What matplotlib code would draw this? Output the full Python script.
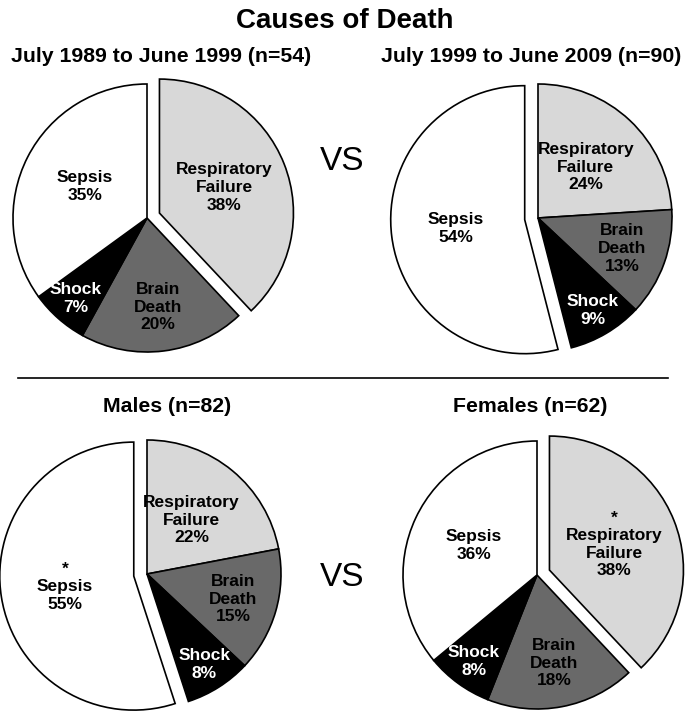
import numpy as np
import matplotlib.pyplot as plt
from matplotlib.lines import Line2D

# Causes of death - four pie charts (two comparisons)
categories = ['Respiratory\nFailure', 'Brain\nDeath', 'Shock', 'Sepsis']
decade1 = [38, 20, 7, 35]
decade2 = [24, 13, 9, 54]
males = [22, 15, 8, 55]
females = [38, 18, 8, 36]
titles = ['July 1989 to June 1999 (n=54)', 'July 1999 to June 2009 (n=90)',
          'Males (n=82)', 'Females (n=62)']
starred = [None, None, 'Sepsis', 'Respiratory\nFailure']

colors = ['#d8d8d8', '#696969', '#000000', '#ffffff']
text_colors = ['black', 'black', 'white', 'black']
label_dist = [0.52, 0.67, 0.80, 0.52]

W, H = 685, 716
R = 134
centers = [(147, 218), (538, 218), (147, 574), (537, 575)]
title_pos = [(161, 57), (531, 57), (167, 406), (530, 406)]

plt.rcParams['font.family'] = ['Liberation Sans', 'DejaVu Sans']
fig = plt.figure(figsize=(W / 100, H / 100), dpi=100)

for data, (cx, cy), star in zip([decade1, decade2, males, females], centers, starred):
    k = 1.3
    ax = fig.add_axes([(cx - k * R) / W, (H - cy - k * R) / H, 2 * k * R / W, 2 * k * R / H])
    big = int(np.argmax(data))
    explode = [0.1 if i == big else 0 for i in range(len(data))]
    wedges, _ = ax.pie(data, colors=colors, explode=explode, startangle=90,
                       counterclock=False, radius=1,
                       wedgeprops=dict(edgecolor='black', linewidth=1.2))
    ax.set_xlim(-k, k)
    ax.set_ylim(-k, k)
    ax.set_aspect('equal')
    ax.axis('off')
    for i, w in enumerate(wedges):
        mid = np.deg2rad((w.theta1 + w.theta2) / 2)
        x = w.center[0] + label_dist[i] * np.cos(mid)
        y = w.center[1] + label_dist[i] * np.sin(mid)
        txt = f'{categories[i]}\n{data[i]}%'
        if star == categories[i]:
            txt = '*\n' + txt
        ax.text(x, y, txt, ha='center', va='center', fontsize=12.5,
                fontweight='bold', color=text_colors[i], linespacing=1.22)

fig.text(345 / W, 1 - 21 / H, 'Causes of Death', ha='center', va='center',
         fontsize=20, fontweight='bold')
for t, (x, y) in zip(titles, title_pos):
    fig.text(x / W, 1 - y / H, t, ha='center', va='center', fontsize=15.3,
             fontweight='bold')

for y in [162, 578]:
    fig.text(342 / W, 1 - y / H, 'VS', ha='center', va='center', fontsize=24)

fig.add_artist(Line2D([18 / W, 668 / W], [1 - 378 / H, 1 - 378 / H],
                      color='black', linewidth=1.2))

fig.savefig('out.png', dpi=100)
